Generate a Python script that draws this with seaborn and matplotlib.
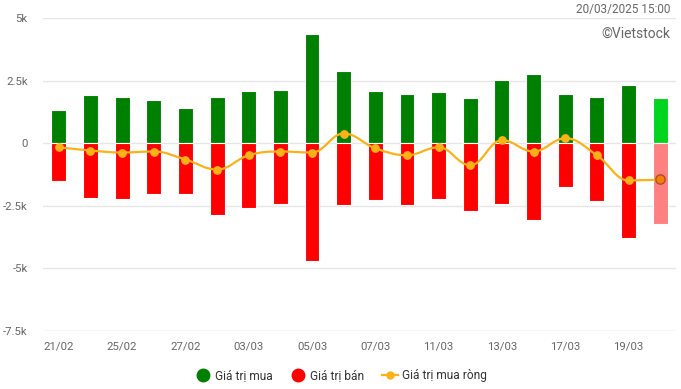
import numpy as np
import pandas as pd
import matplotlib
matplotlib.use("Agg")
import matplotlib.pyplot as plt
from matplotlib.path import Path
from matplotlib.patches import PathPatch
from matplotlib.lines import Line2D
import seaborn as sns

dates = ["21/02", "24/02", "25/02", "26/02", "27/02", "28/02", "03/03", "04/03",
         "05/03", "06/03", "07/03", "10/03", "11/03", "12/03", "13/03", "14/03",
         "17/03", "18/03", "19/03", "20/03"]
buy = [1320, 1920, 1840, 1720, 1400, 1840, 2080, 2120, 4370, 2880,
       2080, 1960, 2040, 1800, 2520, 2760, 1960, 1840, 2320, 1800]
sell = [-1530, -2200, -2250, -2040, -2040, -2880, -2610, -2450, -4720, -2480,
        -2280, -2480, -2250, -2730, -2450, -3090, -1760, -2330, -3810, -3240]
net = [-160, -290, -370, -330, -650, -1050, -480, -330, -370, 390,
       -200, -480, -160, -880, 120, -330, 200, -480, -1490, -1450]
legend_labels = ["Giá trị mua", "Giá trị bán", "Giá trị mua ròng"]
yticks = [-7500, -5000, -2500, 0, 2500, 5000]
ytick_labels = ["-7.5k", "-5k", "-2.5k", "0", "2.5k", "5k"]

BUY_C, BUY_LAST = "#008000", "#00d41f"
SELL_C, SELL_LAST = "#ff0000", "#ff8080"
LINE_C = "#fbb117"

plt.rcParams['font.family'] = ['Roboto', 'DejaVu Sans']
fig = plt.figure(figsize=(6.81, 3.89), dpi=100)
ax = fig.add_axes([43/681, (389-330.7)/389, (676-43)/681, (330.7-18.3)/389])

n = len(dates)
pos = np.arange(n)
df = pd.DataFrame({"pos": pos, "buy": buy, "sell": sell, "net": net})

for spine in ax.spines.values():
    spine.set_visible(False)
ax.set_ylim(-7500, 5000)
ax.set_xlim(-0.5, n - 0.5)
for t in yticks:
    ax.axhline(t, color="#ccd6eb" if t == yticks[0] else "#e6e6e6", lw=1.0, zorder=0)

buy_pal = [BUY_C] * (n - 1) + [BUY_LAST]
sell_pal = [SELL_C] * (n - 1) + [SELL_LAST]
sns.barplot(data=df, x="pos", y="buy", hue="pos", palette=buy_pal, legend=False,
            width=0.47, ax=ax, edgecolor="white", linewidth=0.8, saturation=1, zorder=2)
sns.barplot(data=df, x="pos", y="sell", hue="pos", palette=sell_pal, legend=False,
            width=0.47, ax=ax, edgecolor="white", linewidth=0.8, saturation=1, zorder=2)
ax.set_xlim(-0.5, n - 0.5)

# Highcharts-style spline through the net points (drawing style only)
xs = pos.astype(float)
ys = np.array(net, dtype=float)
sm, den = 1.5, 2.5
lc = [(xs[i], ys[i]) for i in range(n)]
rc = [(xs[i], ys[i]) for i in range(n)]
for i in range(1, n - 1):
    lx = (sm * xs[i] + xs[i-1]) / den
    ly = (sm * ys[i] + ys[i-1]) / den
    rx = (sm * xs[i] + xs[i+1]) / den
    ry = (sm * ys[i] + ys[i+1]) / den
    corr = ((ry - ly) * (rx - xs[i])) / (rx - lx) + ys[i] - ry
    ly += corr
    ry += corr
    if ly > ys[i-1] and ly > ys[i]:
        ly = max(ys[i-1], ys[i]); ry = 2 * ys[i] - ly
    elif ly < ys[i-1] and ly < ys[i]:
        ly = min(ys[i-1], ys[i]); ry = 2 * ys[i] - ly
    if ry > ys[i+1] and ry > ys[i]:
        ry = max(ys[i+1], ys[i]); ly = 2 * ys[i] - ry
    elif ry < ys[i+1] and ry < ys[i]:
        ry = min(ys[i+1], ys[i]); ly = 2 * ys[i] - ry
    lc[i] = (lx, ly)
    rc[i] = (rx, ry)
verts = [(xs[0], ys[0])]
codes = [Path.MOVETO]
for i in range(1, n):
    verts += [rc[i-1], lc[i], (xs[i], ys[i])]
    codes += [Path.CURVE4] * 3
ax.add_patch(PathPatch(Path(verts, codes), facecolor="none", edgecolor=LINE_C,
                       lw=1.6, zorder=3))
sns.scatterplot(data=df.iloc[:-1], x="pos", y="net", color=LINE_C, s=40,
                edgecolor=LINE_C, linewidth=0, ax=ax, zorder=4, legend=False)
sns.scatterplot(data=df.iloc[-1:], x="pos", y="net", color="#f77f00", s=45,
                edgecolor="#a0522d", linewidth=1.0, ax=ax, zorder=5, legend=False)

ax.set_yticks(yticks)
ax.set_yticklabels(ytick_labels)
ax.set_xticks(pos[::2])
ax.set_xticklabels(dates[::2])
ax.tick_params(axis="both", length=0, labelsize=8.2, colors="#666666")
ax.tick_params(axis="y", pad=11)
ax.tick_params(axis="x", pad=8)
ax.set_xlabel("")
ax.set_ylabel("")

fig.text(670/681, 1 - 10/389, "20/03/2025 15:00", ha="right", va="center",
         fontsize=8.5, color="#666666")
fig.text(670/681, 1 - 34/389, "©Vietstock", ha="right", va="center",
         fontsize=10, color="#666666")

handles = [
    Line2D([], [], marker="o", ls="none", color=BUY_C, markersize=9),
    Line2D([], [], marker="o", ls="none", color=SELL_C, markersize=9),
    Line2D([], [], marker="o", ls="-", color=LINE_C, markersize=5, lw=1.6),
]
fig.legend(handles, legend_labels, loc="center", bbox_to_anchor=(341/681, 1 - 376/389),
           ncol=3, frameon=False, fontsize=8.6, handlelength=1.3, handletextpad=0.35,
           columnspacing=1.5, labelcolor="#333333")

fig.savefig("out.png", dpi=100)
